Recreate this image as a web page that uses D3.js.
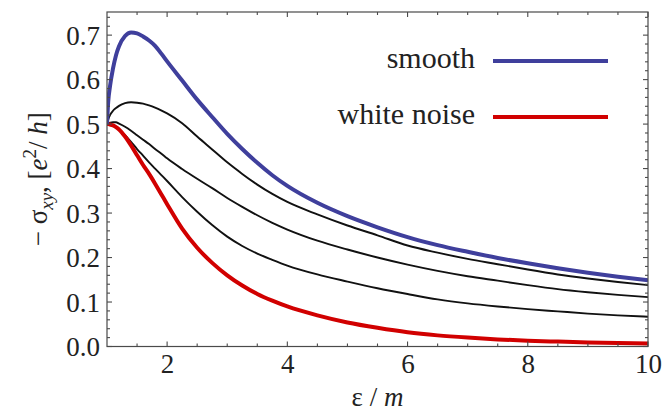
<!DOCTYPE html>
<html><head><meta charset="utf-8">
<script src="https://cdn.jsdelivr.net/npm/d3@7"></script>
<style>body{margin:0;background:#fff}</style>
</head><body><svg id="c" width="664" height="412"></svg>
<script>
const xs = [1.0,1.02,1.05,1.1,1.15,1.2,1.3,1.4,1.5,1.6,1.7,1.8,1.9,2.0,2.25,2.5,2.75,3.0,3.25,3.5,3.75,4.0,4.5,5.0,5.5,6.0,6.5,7.0,7.5,8.0,8.5,9.0,9.5,10.0];
const smooth = [0.500,0.550,0.585,0.625,0.655,0.675,0.698,0.706,0.704,0.697,0.688,0.676,0.659,0.641,0.598,0.555,0.516,0.478,0.444,0.413,0.385,0.361,0.323,0.293,0.268,0.246,0.228,0.213,0.199,0.187,0.176,0.166,0.157,0.149];
const black1 = [0.500,0.510,0.520,0.530,0.536,0.541,0.547,0.549,0.548,0.546,0.542,0.537,0.531,0.524,0.502,0.472,0.443,0.414,0.388,0.364,0.343,0.325,0.297,0.272,0.250,0.227,0.211,0.197,0.185,0.173,0.162,0.153,0.145,0.138];
const black2 = [0.500,0.502,0.503,0.504,0.504,0.501,0.494,0.485,0.475,0.465,0.455,0.444,0.434,0.423,0.399,0.377,0.356,0.334,0.314,0.295,0.278,0.263,0.238,0.218,0.200,0.184,0.170,0.158,0.148,0.138,0.129,0.122,0.116,0.111];
const black3 = [0.500,0.500,0.499,0.497,0.493,0.488,0.475,0.460,0.444,0.429,0.414,0.400,0.386,0.372,0.336,0.303,0.273,0.247,0.226,0.209,0.195,0.182,0.162,0.146,0.131,0.118,0.106,0.097,0.090,0.084,0.079,0.074,0.070,0.067];
const whiteNoise = [0.500,0.500,0.499,0.497,0.493,0.488,0.472,0.452,0.430,0.408,0.388,0.366,0.343,0.320,0.265,0.222,0.188,0.160,0.137,0.118,0.103,0.090,0.070,0.054,0.042,0.032,0.025,0.020,0.016,0.013,0.011,0.009,0.008,0.007];
const xTicks = [2,4,6,8,10];
const yTicks = [0.0,0.1,0.2,0.3,0.4,0.5,0.6,0.7];
const legendLabels = ["smooth","white noise"];

const FONT = "Liberation Serif";
const svg = d3.select("#c");
const L=107, R=648, T=12, B=346.5;
const x = d3.scaleLinear().domain([1,10]).range([L,R]);
const y = d3.scaleLinear().domain([0,0.752]).range([B,T]);
const frameCol = "#4a4a4a";
const txtCol = "#222";

svg.append("defs").append("clipPath").attr("id","clip").append("rect").attr("x",L).attr("y",T).attr("width",R-L).attr("height",B-T);

const line = d3.line().x((d,i)=>x(xs[i])).y(d=>y(d)).curve(d3.curveMonotoneX);
const g = svg.append("g").attr("clip-path","url(#clip)");
[black1,black2,black3].forEach(s=>{
  g.append("path").attr("d",line(s)).attr("fill","none").attr("stroke","#111").attr("stroke-width",1.9);
});
g.append("path").attr("d",line(whiteNoise)).attr("fill","none").attr("stroke","#d10000").attr("stroke-width",4);
g.append("path").attr("d",line(smooth)).attr("fill","none").attr("stroke","#3f3f9c").attr("stroke-width",4);

svg.append("rect").attr("x",L).attr("y",T).attr("width",R-L).attr("height",B-T).attr("fill","none").attr("stroke",frameCol).attr("stroke-width",1.2);

const xMinor = d3.range(1.5,10,0.5).filter(v=>!xTicks.includes(v));
const yMinor = d3.range(0.02,0.75,0.02).filter(v=>Math.abs(v*10-Math.round(v*10))>1e-6);

const bottomAxis = d3.axisBottom(x).tickValues(xTicks).tickSize(0).tickPadding(8).tickFormat(d3.format("d"));
const gx = svg.append("g").attr("transform",`translate(0,${B})`).call(bottomAxis);
gx.attr("font-family",FONT).attr("font-size",27);
gx.select(".domain").remove();
gx.selectAll("text").attr("fill",txtCol).attr("dy","0.75em").attr("y",6);

const leftAxis = d3.axisLeft(y).tickValues(yTicks).tickSize(0).tickPadding(7).tickFormat(d3.format(".1f"));
const gy = svg.append("g").attr("transform",`translate(${L},0)`).call(leftAxis);
gy.attr("font-family",FONT).attr("font-size",27);
gy.select(".domain").remove();
gy.selectAll("text").attr("fill",txtCol).attr("dy","0.34em");

const tk = svg.append("g").attr("stroke",frameCol).attr("stroke-width",1.1);
xTicks.forEach(v=>{ tk.append("line").attr("x1",x(v)).attr("x2",x(v)).attr("y1",B).attr("y2",B-5);
  tk.append("line").attr("x1",x(v)).attr("x2",x(v)).attr("y1",T).attr("y2",T+5);});
xMinor.forEach(v=>{ tk.append("line").attr("x1",x(v)).attr("x2",x(v)).attr("y1",B).attr("y2",B-3);
  tk.append("line").attr("x1",x(v)).attr("x2",x(v)).attr("y1",T).attr("y2",T+3);});
yTicks.forEach(v=>{ tk.append("line").attr("x1",L).attr("x2",L+5).attr("y1",y(v)).attr("y2",y(v));
  tk.append("line").attr("x1",R).attr("x2",R-5).attr("y1",y(v)).attr("y2",y(v));});
yMinor.forEach(v=>{ tk.append("line").attr("x1",L).attr("x2",L+3).attr("y1",y(v)).attr("y2",y(v));
  tk.append("line").attr("x1",R).attr("x2",R-3).attr("y1",y(v)).attr("y2",y(v));});

function T_(sel){ return sel.attr("font-family",FONT).attr("fill",txtCol); }

const xt = T_(svg.append("text")).attr("x",(L+R)/2).attr("y",406).attr("text-anchor","middle").attr("font-size",27);
xt.append("tspan").text("ε / ");
xt.append("tspan").attr("font-style","italic").text("m");

const yt = T_(svg.append("text")).attr("transform",`translate(47,${(T+B)/2}) rotate(-90)`).attr("text-anchor","middle").attr("font-size",27);
yt.append("tspan").text("− σ");
yt.append("tspan").attr("font-style","italic").attr("font-size",19).attr("dy",6).text("xy");
yt.append("tspan").attr("dy",-6).text(", [");
yt.append("tspan").attr("font-style","italic").text("e");
yt.append("tspan").attr("font-size",19).attr("dy",-11).text("2");
yt.append("tspan").attr("dy",11).text("/ ");
yt.append("tspan").attr("font-style","italic").text("h");
yt.append("tspan").text("]");

const legCols = ["#3f3f9c","#d10000"];
const legY = [61,117];
legendLabels.forEach((lab,i)=>{
  T_(svg.append("text")).attr("x",475).attr("y",legY[i]+7).attr("text-anchor","end").attr("font-size",30).text(lab);
  svg.append("line").attr("x1",493).attr("x2",608).attr("y1",legY[i]).attr("y2",legY[i]).attr("stroke",legCols[i]).attr("stroke-width",4);
});
</script></body></html>
